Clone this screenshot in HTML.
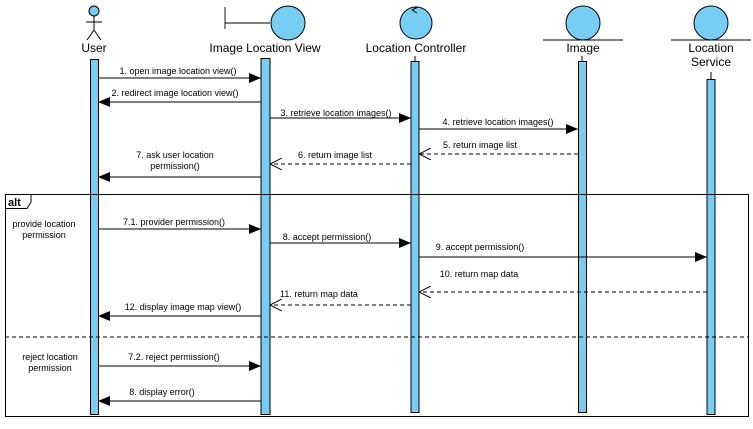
<!DOCTYPE html>
<html><head><style>body{margin:0;background:#fff}svg{display:block}</style></head><body>
<svg width="753" height="429" viewBox="0 0 753 429" xmlns="http://www.w3.org/2000/svg" font-family="Liberation Sans, sans-serif">
<defs>
<marker id="f" markerWidth="12" markerHeight="10" refX="12" refY="5" orient="auto" markerUnits="userSpaceOnUse"><path d="M0,0L12,5L0,10Z" fill="#000"/></marker>
<marker id="o" markerWidth="12" markerHeight="12" refX="12" refY="6" orient="auto" markerUnits="userSpaceOnUse"><path d="M0,0L12,6L0,12" fill="none" stroke="#000"/></marker>
</defs>
<g stroke="#000" stroke-width="1">
<!-- user actor -->
<circle cx="94" cy="11" r="5" fill="#77cdf2"/>
<line x1="94" y1="16" x2="94" y2="30"/><line x1="86" y1="22" x2="102" y2="22"/>
<line x1="94" y1="30" x2="87" y2="40"/><line x1="94" y1="30" x2="101" y2="40"/>
<!-- boundary -->
<line x1="225" y1="7" x2="225" y2="29" stroke="#666" stroke-width="1.5"/><line x1="225" y1="23" x2="270" y2="23"/>
<circle cx="288" cy="23" r="17" fill="#77cdf2"/>
<!-- controller -->
<circle cx="416" cy="23" r="16" fill="#77cdf2"/>
<path d="M412,10 L418,7 M412,10 L417,13" fill="none"/>
<!-- entity image -->
<circle cx="583" cy="23" r="17" fill="#77cdf2"/><line x1="543" y1="40" x2="623" y2="40"/>
<circle cx="711" cy="23" r="17" fill="#77cdf2"/><line x1="671" y1="40" x2="751" y2="40"/>
<!-- lifeline bars -->
<line x1="415" y1="56" x2="415" y2="61"/><line x1="582" y1="56" x2="582" y2="61"/><line x1="711" y1="72" x2="711" y2="79"/>
<rect x="90.5" y="59.5" width="8" height="355" fill="#77cdf2"/>
<rect x="261" y="58.5" width="9" height="356" fill="#77cdf2"/>
<rect x="411" y="61.5" width="8" height="351" fill="#77cdf2"/>
<rect x="578.5" y="61.5" width="8" height="351" fill="#77cdf2"/>
<rect x="707" y="79.5" width="8" height="335" fill="#77cdf2"/>
<!-- alt frame -->
<rect x="5.5" y="194.5" width="743" height="222" fill="none"/>
<path d="M5.5,208.5 L27,208.5 L31,202 L31,194.5" fill="none"/>
<line x1="5" y1="337" x2="748" y2="337" stroke-dasharray="4,3"/>
<!-- messages -->
<line x1="98" y1="78" x2="261" y2="78" marker-end="url(#f)"/>
<line x1="261" y1="102" x2="98" y2="102" marker-end="url(#f)"/>
<line x1="270" y1="118" x2="411" y2="118" marker-end="url(#f)"/>
<line x1="419" y1="129" x2="578" y2="129" marker-end="url(#f)"/>
<line x1="578" y1="154" x2="419" y2="154" stroke-dasharray="4,3" marker-end="url(#o)"/>
<line x1="411" y1="164" x2="270" y2="164" stroke-dasharray="4,3" marker-end="url(#o)"/>
<line x1="261" y1="177" x2="98" y2="177" marker-end="url(#f)"/>
<line x1="98" y1="229" x2="261" y2="229" marker-end="url(#f)"/>
<line x1="270" y1="243" x2="411" y2="243" marker-end="url(#f)"/>
<line x1="419" y1="257" x2="707" y2="257" marker-end="url(#f)"/>
<line x1="707" y1="292" x2="419" y2="292" stroke-dasharray="4,3" marker-end="url(#o)"/>
<line x1="411" y1="305" x2="270" y2="305" stroke-dasharray="4,3" marker-end="url(#o)"/>
<line x1="261" y1="316" x2="98" y2="316" marker-end="url(#f)"/>
<line x1="98" y1="366" x2="261" y2="366" marker-end="url(#f)"/>
<line x1="261" y1="401" x2="98" y2="401" marker-end="url(#f)"/>
</g>
<g font-size="12" text-anchor="middle" fill="#000">
<text x="94" y="52">User</text>
<text x="265" y="52">Image Location View</text>
<text x="416" y="52">Location Controller</text>
<text x="583" y="52">Image</text>
<text x="711" y="52">Location</text><text x="711" y="66">Service</text>
</g>
<text x="8" y="206" font-size="11" font-weight="bold">alt</text>
<g font-size="9" text-anchor="middle" fill="#000">
<text x="44" y="227">provide location</text><text x="44" y="238">permission</text>
<text x="50" y="360">reject location</text><text x="50" y="371">permission</text>
<text x="178" y="74">1. open image location view()</text>
<text x="175" y="96">2. redirect image location view()</text>
<text x="336" y="116">3. retrieve location images()</text>
<text x="498" y="125">4. retrieve location images()</text>
<text x="480" y="148">5. return image list</text>
<text x="335" y="158">6. return image list</text>
<text x="175" y="158">7. ask user location</text><text x="175" y="169">permission()</text>
<text x="174" y="225">7.1. provider permission()</text>
<text x="327" y="240">8. accept permission()</text>
<text x="480" y="250">9. accept permission()</text>
<text x="479" y="277">10. return map data</text>
<text x="319" y="297">11. return map data</text>
<text x="183" y="310">12. display image map view()</text>
<text x="174" y="360">7.2. reject permission()</text>
<text x="162" y="395">8. display error()</text>
</g>
</svg>
</body></html>
